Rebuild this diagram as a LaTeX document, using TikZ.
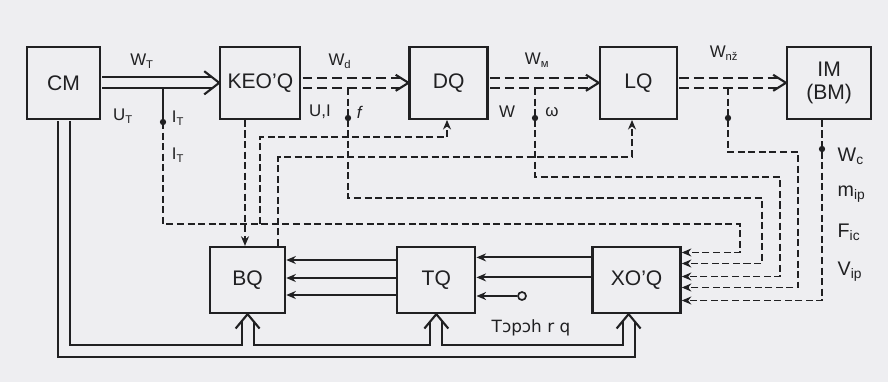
\documentclass[tikz,border=0pt]{standalone}
\usepackage{fontspec}
\setmainfont{Liberation Sans}
\newfontfamily\ipafont{DejaVu Sans}
\usetikzlibrary{arrows.meta, positioning, calc}
\definecolor{paper}{RGB}{238,238,241}
\definecolor{ink}{RGB}{32,32,34}
\tikzset{
    unit/.style={rectangle, draw=ink, line width=1.6pt, minimum width=1.95cm,
        minimum height=1.8cm, align=center, text=ink, font=\fontsize{15}{16}\selectfont},
    lowunit/.style={unit, minimum height=1.65cm},
    lbl/.style={font=\fontsize{12}{13}\selectfont, text=ink, inner sep=1pt},
    rlbl/.style={lbl, font=\fontsize{14}{15}\selectfont, anchor=west},
    sig/.style={draw=ink, line width=1.35pt, dash pattern=on 5pt off 2.5pt},
    sigarrow/.style={sig, -{Stealth[length=2.4mm, width=2mm]}},
    wire/.style={draw=ink, line width=1.35pt, -{Stealth[length=2.4mm, width=2mm]}},
    power/.style={draw=ink, line width=1.5pt, double=paper, double distance=6.4pt},
    dpower/.style={power, double distance=5.7pt, dash pattern=on 7pt off 3.5pt},
    bus/.style={draw=ink, line width=1.5pt, double=paper, double distance=7pt},
    tipline/.style={draw=ink, line width=1.5pt, line join=miter},
    dot/.style={circle, fill=ink, inner sep=0pt, minimum size=4.5pt},
    term/.style={circle, draw=ink, line width=1.2pt, inner sep=0pt, minimum size=0.2cm}
}
\newcommand{\uptip}[1]{\draw[tipline] ([xshift=-0.3cm,yshift=-0.36cm]#1) -- (#1) -- ([xshift=0.3cm,yshift=-0.36cm]#1);}
\newcommand{\rtip}[3]{\draw[tipline] ([xshift=-#2,yshift=#3]#1) -- (#1) -- ([xshift=-#2,yshift=-#3]#1);}

\begin{document}
\begin{tikzpicture}

    \fill[paper] (0,0) rectangle (22.2,-9.55);
    \useasboundingbox (0,0) rectangle (22.2,-9.55);

    \node[unit, minimum width=1.825cm] (cm) at (1.59,-2.07) {CM};
    \node[unit, minimum width=2.0cm, right=2.95cm of cm] (keo) {KEO'Q};
    \node[unit, right=2.675cm of keo] (dq) {DQ};
    \node[unit, minimum width=1.925cm, right=2.75cm of dq] (lq) {LQ};
    \node[unit, minimum width=2.1cm, right=2.7cm of lq] (im) {IM\\(BM)};

    \node[lowunit, minimum width=1.875cm] (bq) at (6.19,-7.0) {BQ};
    \node[lowunit, right=2.75cm of bq] (tq) {TQ};
    \node[lowunit, minimum width=2.2cm, right=2.875cm of tq] (xo) {XO'Q};

    \coordinate (tap1) at (4.075,-2.21);
    \coordinate (tap2) at (8.7,-2.2);
    \coordinate (tap3) at (13.375,-2.2);
    \coordinate (tap4) at (18.2,-2.2);
    \coordinate (xin) at ([xshift=-0.2cm]xo.south);

    % power flow
    \draw[power] ([xshift=0.8pt]cm.east) -- ([xshift=-0.17cm]keo.west);
    \rtip{keo.west}{0.375cm}{0.29cm}
    \draw[dpower] ([xshift=0.8pt]keo.east) -- ([xshift=-0.2cm]dq.west);
    \rtip{dq.west}{0.32cm}{0.2cm}
    \draw[dpower] ([xshift=0.8pt]dq.east) -- ([xshift=-0.2cm]lq.west);
    \rtip{lq.west}{0.32cm}{0.2cm}
    \draw[dpower] ([xshift=0.8pt]lq.east) -- ([xshift=-0.2cm]im.west);
    \rtip{im.west}{0.32cm}{0.2cm}

    \node[lbl] (wt) at (3.55,-1.53) {W\textsubscript{T}};
    \node[lbl] (ut) at (3.075,-2.9) {U\textsubscript{T}};
    \node[lbl] (it1) at (4.45,-2.95) {I\textsubscript{T}};
    \node[lbl] (it2) at (4.45,-3.875) {I\textsubscript{T}};
    \node[lbl] (wd) at (8.5,-1.53) {W\textsubscript{d}};
    \node[lbl] (ui) at (8.0,-2.8) {U,I};
    \node[lbl] (fq) at (9.0,-2.8) {\textit{f}};
    \node[lbl] (wm) at (13.425,-1.5) {W\textsubscript{м}};
    \node[lbl] (wl) at (12.675,-2.8) {W};
    \node[lbl] (om) at (13.8,-2.8) {ω};
    \node[lbl] (wn) at (18.1,-1.33) {W\textsubscript{nž}};

    % measured signals
    \draw[draw=ink, line width=1.35pt] (tap1) -- (4.075,-3.05);
    \draw[sigarrow] (4.075,-3.05) |- (18.5,-5.6) |- ([yshift=0.6875cm]xo.east);
    \draw[sigarrow] (tap2) |- (19.05,-4.95) |- ([yshift=0.4125cm]xo.east);
    \draw[sigarrow] (tap3) |- (19.5,-4.425) |- ([yshift=0.0875cm]xo.east);
    \draw[sigarrow] (tap4) |- (19.95,-3.8) |- ([yshift=-0.1875cm]xo.east);
    \draw[sigarrow] (20.55,0 |- im.south) |- ([yshift=-0.5125cm]xo.east);

    \node[dot] (d1) at (4.075,-3.05) {};
    \node[dot] (d2) at (8.7,-2.95) {};
    \node[dot] (d3) at (13.375,-2.95) {};
    \node[dot] (d4) at (18.2,-2.95) {};
    \node[dot] (d5) at (20.55,-3.725) {};

    \node[rlbl] (wc) at (20.9,-3.9) {W\textsubscript{c}};
    \node[rlbl] (mip) at (20.9,-4.85) {m\textsubscript{ip}};
    \node[rlbl] (fic) at (20.9,-5.8) {F\textsubscript{ic}};
    \node[rlbl] (vip) at (20.9,-6.78) {V\textsubscript{ip}};

    % control
    \draw[sigarrow] (6.125,0 |- keo.south) -- (6.125,0 |- bq.north);
    \draw[sigarrow] (6.5,-5.6) |- (11.175,-3.425) -- (11.175,0 |- dq.south);
    \draw[sigarrow] (6.95,0 |- bq.north) |- (15.8,-3.925) -- (15.8,0 |- lq.south);

    \draw[wire] ([yshift=0.5cm]tq.west) -- ++(-2.75cm,0);
    \draw[wire] ([yshift=0.05cm]tq.west) -- ++(-2.75cm,0);
    \draw[wire] ([yshift=-0.375cm]tq.west) -- ++(-2.75cm,0);
    \draw[wire] ([yshift=0.565cm]xo.west) -- ++(-2.875cm,0);
    \draw[wire] ([yshift=0.065cm]xo.west) -- ++(-2.875cm,0);
    \node[term] (inp) at (13.05,-7.4) {};
    \draw[wire] (inp) -- (inp -| tq.east);
    \node[lbl, font=\ipafont\fontsize{12}{13}\selectfont] (tlbl) at (13.275,-8.2) {Tɔpɔh r q};

    % supply bus
    \draw[bus] ([yshift=-0.8pt]cm.south) -- (cm.south |- 0,-8.775) -| ([yshift=-0.18cm]xin)
        (bq.south |- 0,-8.775) -- ([yshift=-0.18cm]bq.south)
        (tq.south |- 0,-8.775) -- ([yshift=-0.18cm]tq.south);
    \uptip{bq.south}
    \uptip{tq.south}
    \uptip{xin}

\end{tikzpicture}
\end{document}
